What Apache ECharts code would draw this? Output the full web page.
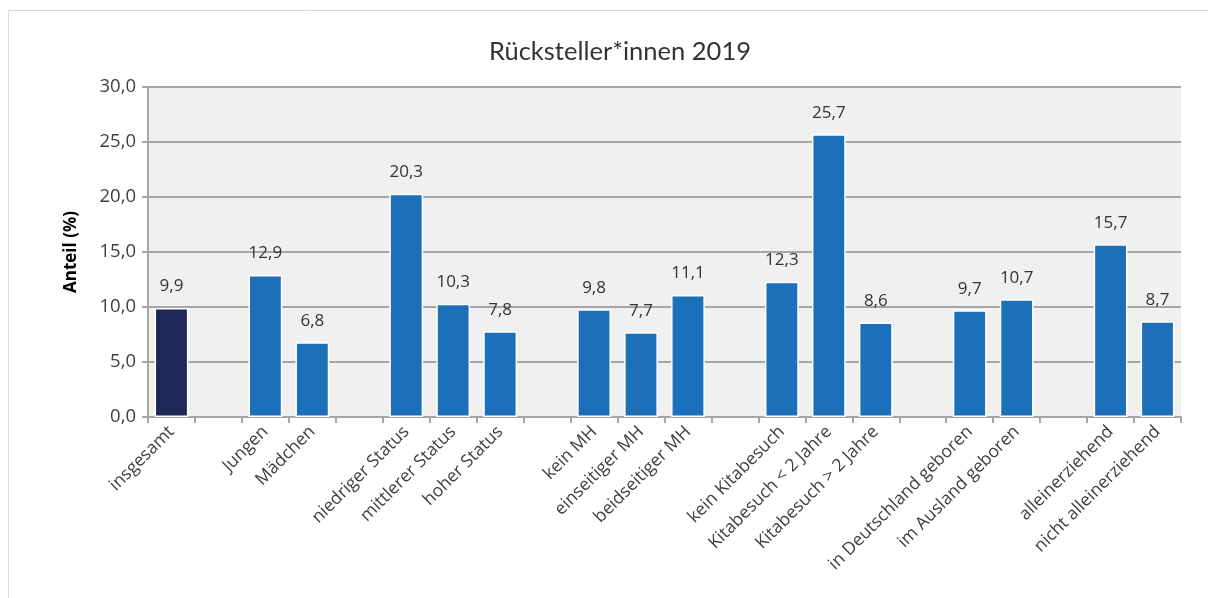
<!DOCTYPE html>
<html>
<head>
<meta charset="utf-8">
<script src="https://cdn.jsdelivr.net/npm/echarts@6/dist/echarts.min.js"></script>
<style>
  html, body { margin: 0; padding: 0; background: #fff; }
  #chart { width: 1208px; height: 598px; }
</style>
</head>
<body>
<div id="chart"></div>
<script>
// Categories; empty strings are spacer slots between groups
const categories = [
  'insgesamt', '',
  'Jungen', 'Mädchen', '',
  'niedriger Status', 'mittlerer Status', 'hoher Status', '',
  'kein MH', 'einseitiger MH', 'beidseitiger MH', '',
  'kein Kitabesuch', 'Kitabesuch < 2 Jahre', 'Kitabesuch > 2 Jahre', '',
  'in Deutschland geboren', 'im Ausland geboren', '',
  'alleinerziehend', 'nicht alleinerziehend'
];
// Share of children held back (%), null for spacer slots
const values = [
  9.9, null,
  12.9, 6.8, null,
  20.3, 10.3, 7.8, null,
  9.8, 7.7, 11.1, null,
  12.3, 25.7, 8.6, null,
  9.7, 10.7, null,
  15.7, 8.7
];
const yTicks = { min: 0, max: 30, interval: 5 };

const totalColor = '#1f2759';
const groupColor = '#1b70b9';
const fmt = v => v.toFixed(1).replace('.', ',');

const chart = echarts.init(document.getElementById('chart'));
chart.setOption({
  animation: false,
  backgroundColor: '#fff',
  graphic: [{
    type: 'rect',
    shape: { x: 8.5, y: 10.5, width: 1230, height: 620 },
    style: { fill: 'none', stroke: '#d9d9d9', lineWidth: 1 },
    z: -10
  }],
  title: {
    text: 'Rücksteller*innen 2019',
    left: 484,
    top: 34,
    textStyle: { fontFamily: 'Lato', fontSize: 25.5, fontWeight: 'normal', color: '#333' }
  },
  grid: { left: 148, right: 27, top: 87, bottom: 181, containLabel: false,
          show: true, backgroundColor: '#f0f0f0', borderWidth: 0 },
  xAxis: {
    type: 'category',
    data: categories,
    axisLine: { lineStyle: { color: '#a6a6a6', width: 2 } },
    axisTick: { show: true, interval: 0, alignWithLabel: false, length: 6, lineStyle: { color: '#a6a6a6', width: 2 } },
    axisLabel: { interval: 0, rotate: 45, margin: 12, fontFamily: 'Open Sans', fontSize: 17.5, color: '#404040' }
  },
  yAxis: {
    type: 'value',
    min: yTicks.min, max: yTicks.max, interval: yTicks.interval,
    name: 'Anteil (%)',
    nameLocation: 'middle',
    nameGap: 68,
    nameRotate: 90,
    nameTextStyle: { fontFamily: 'Open Sans', fontSize: 17, fontWeight: 'bold', color: '#000' },
    axisLine: { show: true, lineStyle: { color: '#a6a6a6', width: 2 } },
    axisTick: { show: true, length: 6, lineStyle: { color: '#a6a6a6', width: 2 } },
    splitLine: { lineStyle: { color: '#a6a6a6', width: 2 } },
    axisLabel: { formatter: fmt, fontFamily: 'Open Sans', fontSize: 18.5, color: '#404040', margin: 12 }
  },
  series: [{
    type: 'bar',
    data: values.map((v, i) => v === null ? '-' : {
      value: v,
      itemStyle: { color: i === 0 ? totalColor : groupColor }
    }),
    barCategoryGap: '28%',
    itemStyle: { borderColor: '#fff', borderWidth: 1.5 },
    label: {
      show: true,
      position: 'top',
      distance: 13,
      formatter: p => fmt(p.value),
      fontFamily: 'Open Sans',
      fontSize: 17,
      color: '#333'
    }
  }]
});
</script>
</body>
</html>
